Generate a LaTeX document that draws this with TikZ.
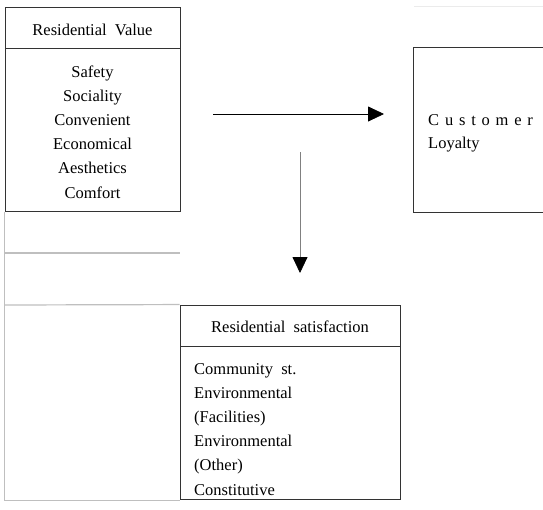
\documentclass[tikz,border=0pt]{standalone}
\usepackage{fontspec}
\setmainfont{Liberation Serif}
\usetikzlibrary{arrows.meta,positioning}

\begin{document}
\begin{tikzpicture}[x=1pt,y=-1pt,font=\fontsize{16.5}{24}\selectfont,
    frame/.style={draw=black!80,line width=0.9pt,inner sep=0pt},
    rule/.style={draw=black!25,line width=1.2pt},
    arr/.style={-{Triangle[length=16pt,width=15pt,black]},line width=0.8pt},
    txt/.style={inner sep=0pt,anchor=base}]
        \useasboundingbox (0,0) rectangle (543,509);
        \node[frame,minimum width=175pt,minimum height=41pt] (valhead) at (92.5,27.5) {};
        \node[frame,minimum width=175pt,minimum height=163pt,below=0pt of valhead] (valbody) {};
        \node[minimum width=129pt,minimum height=164pt,inner sep=0pt] (loyal) at (478.5,130) {};
        \draw[frame] (loyal.north east) -- (loyal.north west) -- (loyal.south west) -- (loyal.south east);
        \draw[black!8,line width=1pt] (loyal.west |- valhead.north) -- (loyal.east |- valhead.north);
        \node[frame,minimum width=220pt,minimum height=41pt] (sathead) at (290,325.5) {};
        \node[frame,minimum width=220pt,minimum height=153pt,below=0pt of sathead] (satbody) {};
        % left rules
        \draw[rule] (valbody.south west) -- (valbody.south west |- satbody.south) -- (satbody.south west);
        \draw[rule] (5,253) -- (180,253);
        \draw[rule] (5,305) -- (sathead.north west);
        % texts
        \node[txt] (valtitle) at (92.5,35) {Residential\ \ Value};
        \foreach \lbl [count=\i] in {Safety,Sociality,Convenient,Economical,Aesthetics,Comfort}
            \node[txt] (val\i) at (92.5,{77+24.2*(\i-1)}) {\lbl};
        \node[txt,anchor=base west] (cust) at (428,125) {{\spaceskip=5.8pt C u s t o m e r}};
        \node[txt,anchor=base west] (loy) at (428,148) {Loyalty};
        \node[txt] (sattitle) at (290,332) {Residential\ \ satisfaction};
        \foreach \lbl [count=\i] in {Community\ \ st.,Environmental,(Facilities),Environmental,(Other),Constitutive}
            \node[txt,anchor=base west] (sat\i) at (194,{374+24.2*(\i-1)}) {\lbl};
        % arrows
        \coordinate (hs) at (213,114); \coordinate (he) at (384,114);
        \coordinate (vs) at (300,152); \coordinate (ve) at (300,273);
        \draw[arr] (hs) -- (he);
        \draw[arr,draw=black!50] (vs) -- (ve);
\end{tikzpicture}
\end{document}
